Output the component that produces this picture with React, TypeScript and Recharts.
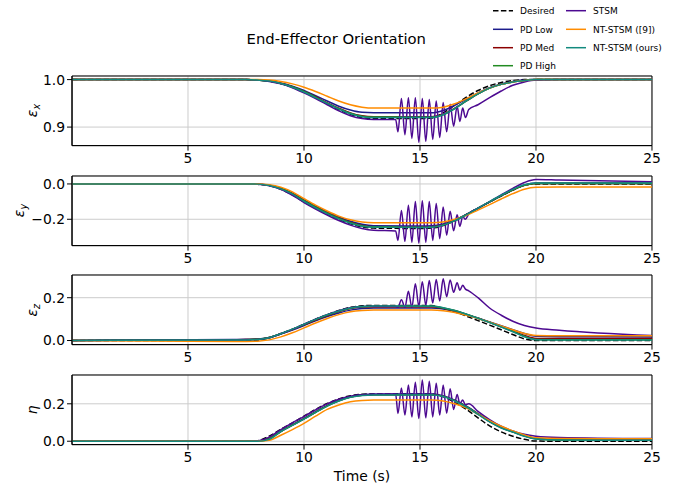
import React from "react";
import {
  LineChart,
  Line,
  XAxis,
  YAxis,
  CartesianGrid,
  ReferenceArea,
} from "recharts";

// shared time grid for the smooth controllers
const T = [0, 7, 7.5, 8, 8.5, 9, 9.5, 10, 10.5, 11, 11.5, 12, 12.5, 13, 15, 15.5, 16, 16.5, 17, 17.5, 18, 18.5, 19, 19.5, 20, 21, 25];

// STSM has its own (denser) grid around the chattering part
const TS = [
  0, 7, 7.5, 8, 8.5, 9, 9.5, 10, 10.5, 11, 11.5, 12, 12.5, 13, 13.95,
  14.05, 14.2, 14.35, 14.5, 14.65, 14.8, 14.95, 15.1, 15.25, 15.4, 15.55, 15.7, 15.85, 16.0, 16.15, 16.3, 16.45, 16.6, 16.72, 16.84, 16.96, 17.1,
  17.5, 18, 18.5, 19, 19.5, 20, 21, 25,
];

const X_TICKS = [5, 10, 15, 20, 25];

// eps_x
const exDesired = [1, 1, 1, 0.999, 0.997, 0.992, 0.984, 0.974, 0.962, 0.949, 0.937, 0.927, 0.92, 0.918, 0.918, 0.919, 0.93, 0.946, 0.963, 0.977, 0.987, 0.994, 0.998, 1, 1, 1, 1];
const exPdLow = [1, 1, 1, 0.999, 0.997, 0.993, 0.986, 0.977, 0.966, 0.955, 0.944, 0.936, 0.931, 0.93, 0.93, 0.93, 0.935, 0.946, 0.959, 0.972, 0.983, 0.991, 0.996, 0.999, 1, 1, 1];
const exPdMed = [1, 1, 1, 0.999, 0.997, 0.992, 0.985, 0.975, 0.964, 0.951, 0.94, 0.93, 0.924, 0.922, 0.922, 0.922, 0.927, 0.94, 0.955, 0.97, 0.982, 0.99, 0.995, 0.998, 1, 1, 1];
const exPdHigh = [1, 1, 1, 0.999, 0.997, 0.992, 0.985, 0.975, 0.963, 0.95, 0.939, 0.929, 0.923, 0.921, 0.921, 0.921, 0.926, 0.939, 0.955, 0.97, 0.982, 0.99, 0.995, 0.998, 1, 1, 1];
const exNt9 = [1, 1, 1, 1, 0.999, 0.996, 0.991, 0.984, 0.975, 0.965, 0.955, 0.947, 0.942, 0.94, 0.94, 0.94, 0.942, 0.949, 0.96, 0.972, 0.982, 0.99, 0.995, 0.998, 1, 1, 1];
const exOurs = [1, 1, 1, 0.999, 0.997, 0.992, 0.984, 0.974, 0.962, 0.95, 0.938, 0.928, 0.922, 0.92, 0.92, 0.92, 0.926, 0.939, 0.955, 0.97, 0.982, 0.99, 0.995, 0.998, 1, 1, 1];
const exStsm = [
  1, 1, 1, 0.999, 0.996, 0.991, 0.983, 0.972, 0.96, 0.947, 0.934, 0.924, 0.918, 0.916, 0.916,
  0.89, 0.96, 0.884, 0.962, 0.876, 0.962, 0.868, 0.96, 0.87, 0.958, 0.874, 0.955, 0.878, 0.952, 0.89, 0.948, 0.902, 0.944, 0.912, 0.94, 0.92, 0.937,
  0.947, 0.962, 0.976, 0.988, 0.995, 0.999, 1, 1,
];

// eps_y
const eyDesired = [0, 0, 0, -0.002, -0.01, -0.03, -0.062, -0.102, -0.138, -0.17, -0.2, -0.225, -0.243, -0.25, -0.252, -0.25, -0.236, -0.207, -0.172, -0.137, -0.102, -0.068, -0.035, -0.008, 0, 0, 0];
const eyPdLow = [0, 0, 0, -0.001, -0.007, -0.024, -0.052, -0.09, -0.126, -0.158, -0.187, -0.211, -0.228, -0.236, -0.238, -0.237, -0.227, -0.204, -0.172, -0.137, -0.102, -0.067, -0.034, -0.006, 0.005, 0.005, 0.005];
const eyPdMed = [0, 0, 0, -0.001, -0.008, -0.026, -0.055, -0.094, -0.131, -0.164, -0.194, -0.218, -0.235, -0.242, -0.243, -0.242, -0.231, -0.207, -0.174, -0.138, -0.102, -0.066, -0.034, -0.008, 0.002, 0.002, 0.002];
const eyPdHigh = [0, 0, 0, -0.001, -0.008, -0.026, -0.056, -0.095, -0.132, -0.165, -0.195, -0.219, -0.236, -0.243, -0.244, -0.243, -0.232, -0.208, -0.175, -0.138, -0.102, -0.066, -0.034, -0.008, 0.003, 0.003, 0.003];
const eyNt9 = [0, 0, 0, 0, -0.004, -0.018, -0.045, -0.083, -0.12, -0.153, -0.182, -0.203, -0.215, -0.219, -0.219, -0.219, -0.215, -0.2, -0.178, -0.148, -0.117, -0.085, -0.055, -0.03, -0.019, -0.017, -0.017];
const eyOurs = [0, 0, 0, -0.001, -0.009, -0.028, -0.058, -0.098, -0.135, -0.168, -0.198, -0.222, -0.239, -0.245, -0.246, -0.245, -0.233, -0.208, -0.174, -0.137, -0.1, -0.064, -0.031, -0.005, 0.006, 0.006, 0.006];
const eyStsm = [
  0, 0, 0, -0.002, -0.01, -0.031, -0.064, -0.105, -0.142, -0.176, -0.207, -0.233, -0.252, -0.262, -0.266,
  -0.32, -0.15, -0.325, -0.12, -0.33, -0.1, -0.335, -0.095, -0.33, -0.1, -0.32, -0.11, -0.31, -0.13, -0.29, -0.155, -0.265, -0.175, -0.24, -0.185, -0.2, -0.17,
  -0.138, -0.1, -0.062, -0.025, 0.008, 0.025, 0.022, 0.012,
];

// eps_z
const ezDesired = [0, 0, 0, 0.002, 0.012, 0.033, 0.053, 0.076, 0.1, 0.121, 0.14, 0.155, 0.162, 0.164, 0.164, 0.163, 0.15, 0.134, 0.114, 0.093, 0.072, 0.05, 0.028, 0.008, 0, 0, 0];
const ezPdLow = [0, 0.005, 0.006, 0.007, 0.014, 0.03, 0.049, 0.07, 0.092, 0.112, 0.129, 0.142, 0.149, 0.152, 0.152, 0.152, 0.147, 0.137, 0.122, 0.105, 0.087, 0.069, 0.051, 0.033, 0.02, 0.018, 0.017];
const ezPdMed = [0, 0.004, 0.005, 0.006, 0.014, 0.031, 0.051, 0.073, 0.096, 0.117, 0.135, 0.149, 0.156, 0.158, 0.158, 0.158, 0.151, 0.139, 0.122, 0.104, 0.085, 0.065, 0.045, 0.024, 0.01, 0.009, 0.009];
const ezPdHigh = [0, 0.004, 0.004, 0.006, 0.014, 0.032, 0.052, 0.075, 0.098, 0.119, 0.137, 0.151, 0.158, 0.16, 0.16, 0.16, 0.152, 0.14, 0.123, 0.104, 0.085, 0.064, 0.043, 0.02, 0.005, 0.004, 0.004];
const ezNt9 = [0, -0.004, -0.004, -0.003, 0.003, 0.017, 0.036, 0.059, 0.082, 0.103, 0.121, 0.134, 0.14, 0.142, 0.142, 0.142, 0.139, 0.131, 0.118, 0.103, 0.086, 0.068, 0.05, 0.033, 0.024, 0.022, 0.022];
const ezOurs = [0, 0.003, 0.003, 0.005, 0.013, 0.032, 0.053, 0.076, 0.099, 0.12, 0.138, 0.152, 0.159, 0.161, 0.161, 0.161, 0.153, 0.14, 0.123, 0.104, 0.084, 0.063, 0.041, 0.018, 0.004, 0.003, 0.003];
const ezStsm = [
  0, 0.002, 0.003, 0.005, 0.013, 0.032, 0.052, 0.076, 0.1, 0.121, 0.139, 0.153, 0.159, 0.16, 0.16,
  0.155, 0.19, 0.155, 0.23, 0.155, 0.265, 0.16, 0.275, 0.165, 0.28, 0.175, 0.285, 0.185, 0.288, 0.205, 0.283, 0.225, 0.27, 0.235, 0.258, 0.24, 0.232,
  0.2, 0.152, 0.118, 0.09, 0.07, 0.058, 0.048, 0.023,
];

// eta
const etaDesired = [0, 0, 0, 0.003, 0.027, 0.064, 0.098, 0.134, 0.17, 0.202, 0.226, 0.243, 0.251, 0.253, 0.253, 0.252, 0.238, 0.208, 0.17, 0.125, 0.082, 0.05, 0.027, 0.01, 0.001, 0, 0];
const etaPdLow = [0, 0, 0, 0.001, 0.015, 0.054, 0.088, 0.122, 0.158, 0.192, 0.219, 0.238, 0.248, 0.251, 0.252, 0.252, 0.243, 0.219, 0.187, 0.148, 0.107, 0.074, 0.051, 0.03, 0.015, 0.009, 0.008];
const etaPdMed = [0, 0, 0, 0.001, 0.014, 0.052, 0.086, 0.119, 0.155, 0.189, 0.216, 0.236, 0.246, 0.249, 0.249, 0.249, 0.241, 0.217, 0.185, 0.146, 0.105, 0.073, 0.05, 0.029, 0.014, 0.006, 0.005];
const etaPdHigh = [0, 0, 0, 0.001, 0.013, 0.052, 0.086, 0.119, 0.155, 0.189, 0.216, 0.236, 0.246, 0.249, 0.249, 0.249, 0.241, 0.217, 0.185, 0.146, 0.105, 0.073, 0.05, 0.028, 0.013, 0.006, 0.005];
const etaNt9 = [0, 0, 0, 0, 0.005, 0.032, 0.062, 0.095, 0.134, 0.17, 0.194, 0.211, 0.218, 0.22, 0.22, 0.22, 0.215, 0.2, 0.177, 0.145, 0.11, 0.08, 0.055, 0.033, 0.018, 0.014, 0.013];
const etaOurs = [0, 0, 0, 0, 0.01, 0.052, 0.085, 0.118, 0.154, 0.188, 0.215, 0.235, 0.245, 0.247, 0.247, 0.247, 0.239, 0.215, 0.183, 0.144, 0.103, 0.071, 0.049, 0.027, 0.012, 0.006, 0.005];
const etaStsm = [
  0, 0, 0, 0.002, 0.022, 0.062, 0.098, 0.132, 0.168, 0.2, 0.224, 0.241, 0.249, 0.251, 0.252,
  0.148, 0.285, 0.14, 0.3, 0.13, 0.315, 0.122, 0.327, 0.125, 0.32, 0.13, 0.31, 0.14, 0.3, 0.15, 0.28, 0.17, 0.25, 0.2, 0.22, 0.195, 0.2,
  0.16, 0.116, 0.08, 0.055, 0.037, 0.027, 0.02, 0.014,
];

const SERIES = [
  { key: "desired", name: "Desired", color: "#000000", dash: "5.5 2.4" },
  { key: "pdLow", name: "PD Low", color: "#1c1c8c" },
  { key: "pdMed", name: "PD Med", color: "#8b0000" },
  { key: "pdHigh", name: "PD High", color: "#228b22" },
  { key: "stsm", name: "STSM", color: "#4d0a91" },
  { key: "nt9", name: "NT-STSM ([9])", color: "#ff8c00" },
  { key: "ours", name: "NT-STSM (ours)", color: "#138a7e" },
];

function buildRows(smooth: Record<string, number[]>, stsm: number[]) {
  const map = new Map<number, any>();
  T.forEach((t, i) => {
    const r = map.get(t) ?? { t };
    for (const k of Object.keys(smooth)) r[k] = smooth[k][i];
    map.set(t, r);
  });
  TS.forEach((t, i) => {
    const r = map.get(t) ?? { t };
    r.stsm = stsm[i];
    map.set(t, r);
  });
  return [...map.values()].sort((a, b) => a.t - b.t);
}

const PANELS = [
  {
    top: 75.7, domain: [0.861, 1.0076], ticks: [0.9, 1.0], label: "x", lx: 37,
    rows: buildRows({ desired: exDesired, pdLow: exPdLow, pdMed: exPdMed, pdHigh: exPdHigh, nt9: exNt9, ours: exOurs }, exStsm),
  },
  {
    top: 175.7, domain: [-0.349, 0.045], ticks: [-0.2, 0.0], label: "y", lx: 24,
    rows: buildRows({ desired: eyDesired, pdLow: eyPdLow, pdMed: eyPdMed, pdHigh: eyPdHigh, nt9: eyNt9, ours: eyOurs }, eyStsm),
  },
  {
    top: 275.3, domain: [-0.019, 0.306], ticks: [0.0, 0.2], label: "z", lx: 37,
    rows: buildRows({ desired: ezDesired, pdLow: ezPdLow, pdMed: ezPdMed, pdHigh: ezPdHigh, nt9: ezNt9, ours: ezOurs }, ezStsm),
  },
  {
    top: 375, domain: [-0.018, 0.354], ticks: [0.0, 0.2], label: "eta", lx: 37,
    rows: buildRows({ desired: etaDesired, pdLow: etaPdLow, pdMed: etaPdMed, pdHigh: etaPdHigh, nt9: etaNt9, ours: etaOurs }, etaStsm),
  },
];

const PLOT_H = 69.6;
const TOP_PAD = 5;
const X_AXIS_H = 25;
const FONT = "'DejaVu Sans', sans-serif";

const fmt = (v: number) => v.toFixed(1).replace("-", "\u2212");

function Panel({ p }: { p: (typeof PANELS)[number] }) {
  return (
    <div style={{ position: "absolute", left: 0, top: p.top - TOP_PAD }}>
      <LineChart
        width={686}
        height={TOP_PAD + PLOT_H + X_AXIS_H}
        data={p.rows}
        margin={{ top: TOP_PAD, right: 34, bottom: 0, left: 0 }}
      >
        <CartesianGrid stroke="#cccccc" strokeWidth={1} />
        <XAxis
          dataKey="t"
          type="number"
          domain={[0, 25]}
          ticks={X_TICKS}
          allowDataOverflow
          height={X_AXIS_H}
          tickSize={5}
          tickMargin={3}
          stroke="#000"
          tick={{ fontSize: 13.9, fill: "#000" }}
        />
        <YAxis
          type="number"
          domain={p.domain}
          ticks={p.ticks}
          allowDataOverflow
          width={72}
          tickSize={5}
          tickMargin={2}
          stroke="#000"
          tickFormatter={fmt}
          tick={{ fontSize: 13.9, fill: "#000" }}
        />
        {SERIES.map((s) => (
          <Line
            key={s.key}
            dataKey={s.key}
            type="monotone"
            stroke={s.color}
            strokeWidth={1.5}
            strokeDasharray={s.dash}
            dot={false}
            connectNulls
            isAnimationActive={false}
          />
        ))}
        <ReferenceArea
          x1={0}
          x2={25}
          y1={p.domain[0]}
          y2={p.domain[1]}
          fill="none"
          stroke="#000"
          strokeWidth={1}
        />
      </LineChart>
    </div>
  );
}

function YLabel({ p }: { p: (typeof PANELS)[number] }) {
  const cy = p.top + PLOT_H / 2;
  return (
    <text
      transform={`translate(${p.lx}, ${cy}) rotate(-90)`}
      textAnchor="middle"
      fontSize={13.9}
      fontStyle="italic"
    >
      {p.label === "eta" ? (
        "\u03b7"
      ) : (
        <>
          {"\u03b5"}
          <tspan dy={3} fontSize={9.7}>
            {p.label}
          </tspan>
        </>
      )}
    </text>
  );
}

export default function App() {
  const legendCols = [SERIES.slice(0, 4), SERIES.slice(4)];
  const rowsY = [10.7, 29.3, 47.7, 65.7];
  const colX = [493, 566];
  return (
    <div
      style={{
        position: "absolute",
        left: 0,
        top: 0,
        width: 686,
        height: 487,
        background: "#fff",
        fontFamily: FONT,
      }}
    >
      {PANELS.map((p, i) => (
        <Panel key={i} p={p} />
      ))}
      <svg
        width={686}
        height={487}
        style={{ position: "absolute", left: 0, top: 0, pointerEvents: "none", fontFamily: FONT }}
      >
        <text x={336.3} y={43.5} textAnchor="middle" fontSize={14.8} fill="#000">
          End-Effector Orientation
        </text>
        <text x={362} y={481} textAnchor="middle" fontSize={13.9} fill="#000">
          Time (s)
        </text>
        {PANELS.map((p, i) => (
          <YLabel key={i} p={p} />
        ))}
        {legendCols.map((col, ci) =>
          col.map((s, ri) => (
            <g key={s.key}>
              <line
                x1={colX[ci]}
                x2={colX[ci] + 20}
                y1={rowsY[ri]}
                y2={rowsY[ri]}
                stroke={s.color}
                strokeWidth={1.5}
                strokeDasharray={s.dash}
              />
              <text x={colX[ci] + 27} y={rowsY[ri] + 3.2} fontSize={9} fill="#000">
                {s.name}
              </text>
            </g>
          ))
        )}
      </svg>
    </div>
  );
}
